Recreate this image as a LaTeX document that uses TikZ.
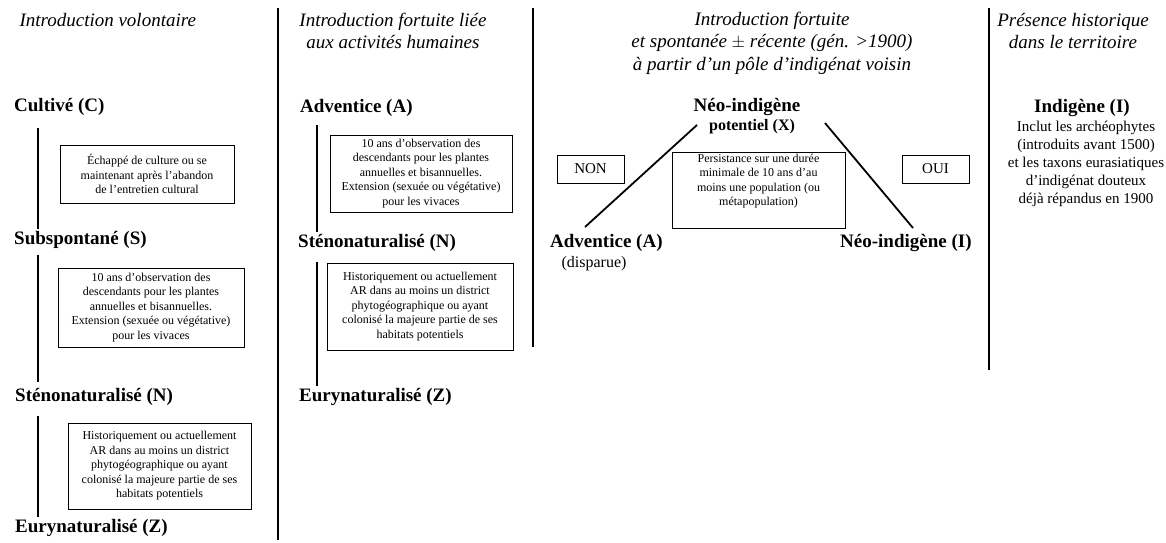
\documentclass[tikz,border=0pt]{standalone}
\usepackage{fontspec}
\setmainfont{Liberation Serif}

\tikzset{
  titre/.style={font=\fontsize{19}{22.5}\selectfont\itshape, align=center},
  statut/.style={font=\fontsize{19}{22}\selectfont\bfseries, inner sep=0pt},
  critere/.style={draw, line width=0.8pt, font=\fontsize{12}{14.5}\selectfont, align=center, inner sep=0pt},
  reponse/.style={draw, line width=0.8pt, font=\fontsize{15}{18}\selectfont, minimum width=67, minimum height=28, inner sep=0pt},
  note/.style={font=\fontsize{16}{18}\selectfont, align=center, inner sep=0pt},
  tige/.style={line width=2.2pt},
  diag/.style={line width=1.8pt},
  sep/.style={line width=1.1pt}
}

\begin{document}
\begin{tikzpicture}[x=1pt,y=-1pt]
\useasboundingbox (0,0) rectangle (1166,542);

% separations entre colonnes
\foreach \x/\b in {278/540,533/347,989/370}
    \draw[sep] (\x,8) -- (\x,\b);

% colonne 1 : introduction volontaire
\node[titre,anchor=west] (t1) at (16,20) {Introduction volontaire};
\node[statut,anchor=west] (cult) at (14,107) {Cultivé (C)};
\node[statut,anchor=west] (subs) at (14,240) {Subspontané (S)};
\node[statut,anchor=west] (sten) at (15,397) {Sténonaturalisé (N)};
\node[statut,anchor=west] (eury) at (15,528) {Eurynaturalisé (Z)};
\node[critere,minimum width=174,minimum height=58] (c1) at (147,174)
    {Échappé de culture ou se\\ maintenant après l'abandon\\ de l'entretien cultural};
\node[critere,minimum width=186,minimum height=79] (c2) at (151,307.5)
    {10 ans d'observation des\\ descendants pour les plantes\\ annuelles et bisannuelles.\\
     Extension (sexuée ou végétative)\\ pour les vivaces};
\node[critere,minimum width=183,minimum height=86] (c3) at (159.5,466)
    {Historiquement ou actuellement\\ AR dans au moins un district\\ phytogéographique ou ayant\\
     colonisé la majeure partie de ses\\ habitats potentiels};
\coordinate (axe1) at (38,0);
\draw[tige] ([yshift=-12pt]cult.south -| axe1) -- ([yshift=2pt]subs.north -| axe1);
\draw[tige] ([yshift=-6pt]subs.south -| axe1) -- ([yshift=6pt]sten.north -| axe1);
\draw[tige] ([yshift=-10pt]sten.south -| axe1) -- ([yshift=2pt]eury.north -| axe1);

% colonne 2 : introduction fortuite
\node[titre] (t2) at (393,31) {Introduction fortuite liée\\ aux activités humaines};
\node[statut,anchor=west] (adv) at (300,108) {Adventice (A)};
\node[statut,anchor=west] (sten2) at (298,243) {Sténonaturalisé (N)};
\node[statut,anchor=west] (eury2) at (299,397) {Eurynaturalisé (Z)};
\node[critere,minimum width=182,minimum height=77] (c4) at (421,173.5)
    {10 ans d'observation des\\ descendants pour les plantes\\ annuelles et bisannuelles.\\
     Extension (sexuée ou végétative)\\ pour les vivaces};
\node[critere,minimum width=186,minimum height=87] (c5) at (420,306.5)
    {Historiquement ou actuellement\\ AR dans au moins un district\\ phytogéographique ou ayant\\
     colonisé la majeure partie de ses\\ habitats potentiels};
\coordinate (axe2) at (317,0);
\draw[tige] ([yshift=-8pt]adv.south -| axe2) -- ([yshift=2pt]sten2.north -| axe2);
\draw[tige] ([yshift=-10pt]sten2.south -| axe2) -- ([yshift=2pt]eury2.north -| axe2);

% colonne 3 : introduction spontanee
\node[titre] (t3) at (772,43) {Introduction fortuite\\ et spontanée $\pm$ récente (gén. >1900)\\
    à partir d'un pôle d'indigénat voisin};
\node[statut] (neo) at (747,107) {Néo-indigène};
\node[statut,font=\fontsize{16}{19}\selectfont\bfseries] (pot) at (752,127) {potentiel (X)};
\node[statut,anchor=west] (adv3) at (550,243) {Adventice (A)};
\node[note] (disp) at (594,264) {(disparue)};
\node[statut,anchor=west] (neoi) at (840,243) {Néo-indigène (I)};
\node[reponse] (non) at (590.5,169) {NON};
\node[reponse] (oui) at (935.5,169) {OUI};
\node[critere,minimum width=173,minimum height=76] (c6) at (758.5,190)
    {Persistance sur une durée\\ minimale de 10 ans d'au\\ moins une population (ou\\ métapopulation)\\[6pt]};
\coordinate (bg) at (585,227);
\coordinate (hg) at (697,125);
\coordinate (hd) at (825,123);
\coordinate (bd) at (913,228);
\draw[diag] (bg) -- (hg);
\draw[diag] (hd) -- (bd);

% colonne 4 : presence historique
\node[titre] (t4) at (1073,31) {Présence historique\\ dans le territoire};
\node[statut] (indi) at (1082,108) {Indigène (I)};
\node[note,font=\fontsize{15}{18}\selectfont,anchor=north] (incl) at (1086,121) {Inclut les archéophytes\\ (introduits avant 1500)\\
    et les taxons eurasiatiques\\ d'indigénat douteux\\ déjà répandus en 1900};
\end{tikzpicture}
\end{document}
